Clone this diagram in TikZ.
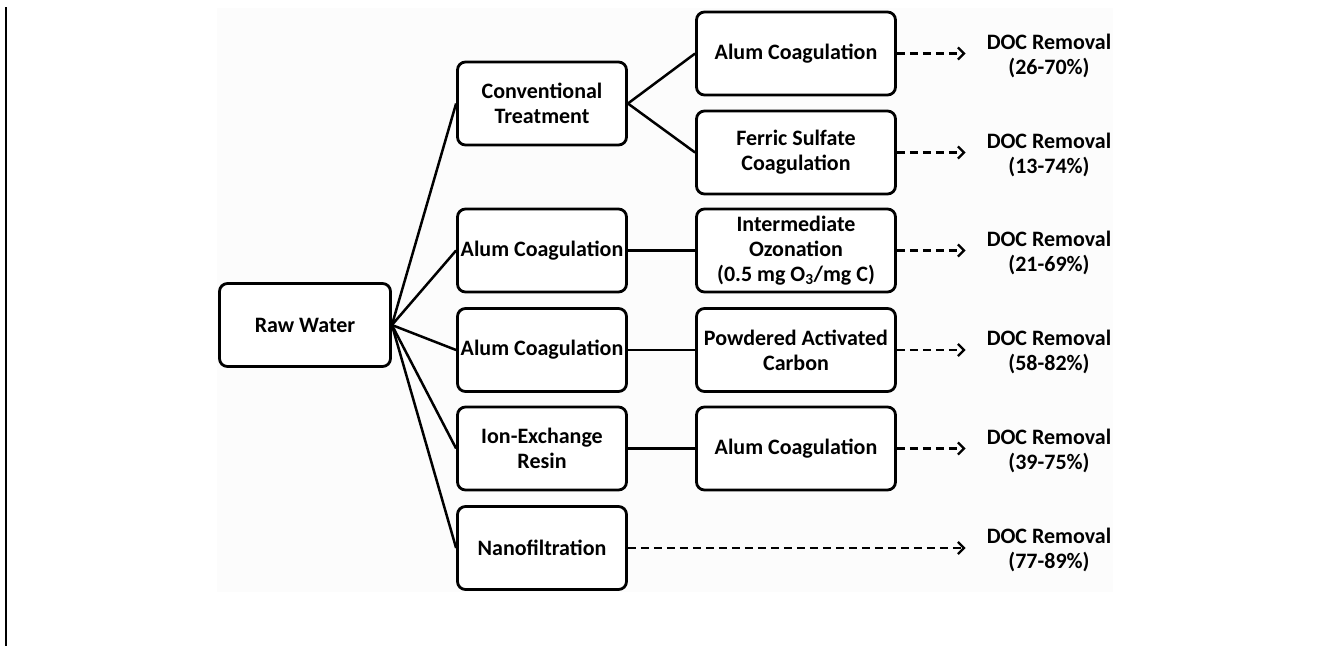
\documentclass[tikz,border=0pt]{standalone}
\usepackage{fontspec}
\setmainfont{Carlito}
\usetikzlibrary{arrows.meta}
\definecolor{bgc}{RGB}{252,252,252}
\begin{document}
\begin{tikzpicture}[x=1pt,y=-1pt,
  txt/.style={font=\bfseries\fontsize{22}{25}\selectfont, align=center},
  box/.style={txt, draw, line width=2.8pt, rounded corners=8pt, fill=white, minimum height=83pt, inner sep=1pt},
  colA/.style={box, minimum width=169pt},
  colB/.style={box, minimum width=199pt},
  doc/.style={txt, inner xsep=21pt, inner ysep=2pt},
  link/.style={line width=2.5pt},
  flow/.style={line width=2.3pt, dash pattern=on 8pt off 5pt, -{Straight Barb[length=6pt,width=12pt,line width=2.3pt]}}]
\useasboundingbox (0,0) rectangle (1321,646);
\fill[bgc] (217,8) rectangle (1113,592);
\draw[line width=2.5pt] (6,7) -- (6,646);

\node[box, minimum width=171pt] (raw) at (305,325) {Raw Water};

\node[colA] (conv) at (542,103.5) {Conventional\\Treatment};
\node[colA] (alumA) at (542,250.5) {Alum Coagulation};
\node[colA] (alumB) at (542,350) {Alum Coagulation};
\node[colA] (ion) at (542,448.5) {Ion-Exchange\\Resin};
\node[colA] (nano) at (542,548) {Nanofiltration};

\node[colB] (alum1) at (796,53.5) {Alum Coagulation};
\node[colB] (ferric) at (796,152.5) {Ferric Sulfate\\Coagulation};
\node[colB] (ozone) at (796,250.5) {Intermediate\\Ozonation\\(0.5 mg O\textsubscript{3}/mg C)};
\node[colB] (pac) at (796,350) {Powdered Activated\\Carbon};
\node[colB] (alum2) at (796,448.5) {Alum Coagulation};

\node[doc] (d1) at (1049,55.5) {DOC Removal\\(26-70\%)};
\node[doc] (d2) at (1049,154.5) {DOC Removal\\(13-74\%)};
\node[doc] (d3) at (1049,252.5) {DOC Removal\\(21-69\%)};
\node[doc] (d4) at (1049,352) {DOC Removal\\(58-82\%)};
\node[doc] (d5) at (1049,450.5) {DOC Removal\\(39-75\%)};
\node[doc] (d6) at (1049,550) {DOC Removal\\(77-89\%)};

\foreach \t in {conv,alumA,alumB,ion,nano}
  \draw[link] (raw.east) -- (\t.west);
\draw[link] (conv.east) -- (alum1.west);
\draw[link] (conv.east) -- (ferric.west);
\draw[link] (alumA) -- (ozone);
\draw[link] (alumB) -- (pac);
\draw[link] (ion) -- (alum2);

\draw[flow] (alum1.east) -- (alum1.east -| d1.west);
\draw[flow] (ferric.east) -- (ferric.east -| d2.west);
\draw[flow] (ozone.east) -- (ozone.east -| d3.west);
\draw[flow] (pac.east) -- (pac.east -| d4.west);
\draw[flow] (alum2.east) -- (alum2.east -| d5.west);
\draw[flow] (nano.east) -- (nano.east -| d6.west);
\end{tikzpicture}
\end{document}
